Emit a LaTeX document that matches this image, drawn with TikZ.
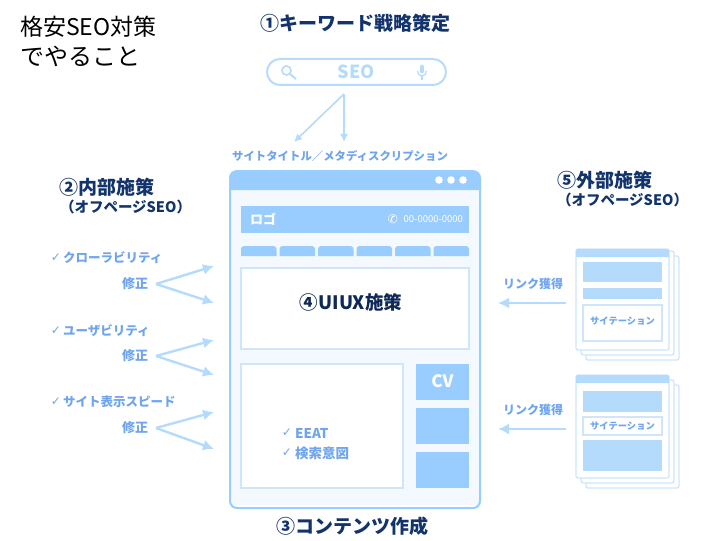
\documentclass[tikz,border=0pt]{standalone}
\usepackage{fontspec}
\setmainfont{Noto Sans CJK JP}
\newfontfamily\symfont{DejaVu Sans}
\usetikzlibrary{arrows,arrows.meta,positioning}

\definecolor{webblue}{HTML}{99CCFF}
\definecolor{paleblue}{HTML}{B5DBFC}
\definecolor{edgeblue}{HTML}{CFE5FB}
\definecolor{inkblue}{HTML}{6FA5EE}
\definecolor{navy}{HTML}{12336B}
\definecolor{winbg}{HTML}{F3F9FE}

\newcommand{\fsz}[1]{\fontsize{#1}{#1}\selectfont}

\begin{document}
\begin{tikzpicture}[x=1pt,y=-1pt,
            >={Latex[length=11pt,width=11pt]},
            every node/.style={inner sep=0pt,outer sep=0pt},
            heading/.style={text=navy,font=\fsz{19}\bfseries},
            subheading/.style={text=navy,font=\fsz{14.5}\bfseries},
            itemtext/.style={text=inkblue,font=\fsz{12.5}\bfseries},
            check/.style={text=inkblue,font=\symfont\fsz{12}},
            fixlabel/.style={text=inkblue,font=\fsz{13}\bfseries,anchor=east,inner xsep=8pt},
            linklabel/.style={text=inkblue,font=\fsz{12}\bfseries},
            citetext/.style={text=inkblue,font=\fsz{9.3}\bfseries},
            flow/.style={->,draw=paleblue,line width=2.4pt},
            panel/.style={draw=edgeblue,line width=1.5pt,fill=white,anchor=north west},
            solidblock/.style={fill=webblue,anchor=north west},
            paleblock/.style={fill=paleblue,anchor=north west},
            sheet/.style={draw=edgeblue,line width=1.3pt,fill=white,rounded corners=2pt,
                anchor=north west,minimum width=93pt}]

        \useasboundingbox (0,0) rectangle (711,540);

        % title
        \node[anchor=west,font=\fsz{23}] (title1) at (20,27) {格安SEO対策};
        \node[anchor=west,font=\fsz{24}] (title2) at (20,56) {でやること};

        % search bar
        \node[heading,anchor=west] (kw) at (260,23) {①キーワード戦略策定};
        \node[draw=paleblue,line width=2pt,rounded corners=13pt,minimum width=179pt,
              minimum height=26pt,anchor=north west] (bar) at (267,59) {};
        \node[text=paleblue,font=\fsz{18}\bfseries] (seo) at (356,72) {SEO};
        \draw[paleblue,line width=1.6pt] (286.5,70.5) circle (4.5pt);
        \draw[paleblue,line width=2pt] (290,74) -- (296,79);
        \draw[paleblue,line width=3.5pt,line cap=round] (422,66.5) -- (422,71.5);
        \draw[paleblue,line width=1.2pt] (417.5,71) arc[start angle=180,end angle=0,x radius=4.5pt,y radius=-5pt];
        \draw[paleblue,line width=1.2pt] (422,76) -- (422,80);

        \coordinate (split) at (344,94);
        \coordinate (tofix) at (294,142);
        \coordinate (todesc) at (344,142);
        \draw[->,>={Latex[length=8pt,width=8pt]},draw=paleblue,line width=1.6pt] (split) -- (tofix);
        \draw[->,>={Latex[length=8pt,width=8pt]},draw=paleblue,line width=1.6pt] (split) -- (todesc);
        \node[itemtext,font=\fsz{11.4}\bfseries] (meta) at (340,156) {サイトタイトル／メタディスクリプション};

        % browser window
        \fill[winbg] (229,175) rectangle (481,505);
        \fill[webblue] (229,190) [rounded corners=8pt] -- (229,170) -- (481,170) [sharp corners] -- (481,190) -- cycle;
        \draw[webblue,line width=2pt,rounded corners=7pt] (230,185) -- (230,508) -- (480,508) -- (480,185);
        \foreach \x in {439,451,463}
            \fill[white] (\x,180) circle (3.8pt);

        \node[solidblock,minimum width=228pt,minimum height=27pt] (logobar) at (241,206) {};
        \node[text=white,font=\fsz{13}\bfseries] (logo) at (263,219) {ロゴ};
        \node[text=white,font=\symfont\fsz{12},anchor=east] (phone) at (398,219) {✆};
        \node[text=white,font=\fsz{9.5},anchor=east] (tel) at (463,219) {00-0000-0000};
        \foreach \x in {241,279.5,318,356.5,395,433.5}
            \fill[webblue] (\x,256) [rounded corners=3pt] -- (\x,246) -- ++(35.5,0) [sharp corners] -- ++(0,10) -- cycle;

        \node[panel,minimum width=228pt,minimum height=81pt] (hero) at (241,268) {};
        \node[text=navy!80!black,font=\fsz{18.5}\bfseries] (uiux) at (351,302) {④UIUX施策};

        \node[panel,minimum width=162pt,minimum height=124pt] (body) at (241,364) {};
        \node[check] (chk1) at (287,433) {✓};
        \node[itemtext,font=\fsz{13.5}\bfseries,anchor=west] (eeat) at (295,433) {EEAT};
        \node[check] (chk2) at (287,453) {✓};
        \node[itemtext,font=\fsz{13.5}\bfseries,anchor=west] (intent) at (295,453) {検索意図};

        \node[solidblock,minimum width=53pt,minimum height=36pt] (cv) at (416,364) {};
        \node[text=white,font=\fsz{17}\bfseries] (cvtext) at (442.5,381) {CV};
        \node[solidblock,minimum width=53pt,minimum height=36pt] (side1) at (416,408) {};
        \node[solidblock,minimum width=53pt,minimum height=36pt] (side2) at (416,452) {};
        \node[heading,anchor=west] (content) at (276,526) {③コンテンツ作成};

        % inner measures
        \node[heading,anchor=west] (inner) at (59,187) {②内部施策};
        \node[subheading,anchor=west] (innersub) at (60,207) {（オフページSEO）};

        \foreach \n/\label/\ya/\yb/\yt/\yc in {1/クローラビリティ/258/284/266/303,
                                               2/ユーザビリティ/331/356/340/375,
                                               3/サイト表示スピード/402/428/412/449} {
            \node[check] (tick\n) at (56,\ya) {✓};
            \node[itemtext,anchor=west] (item\n) at (63,\ya) {\label};
            \node[fixlabel] (fix\n) at (156,\yb) {修正};
            \coordinate (up\n) at (214,\yt);
            \coordinate (down\n) at (214,\yc);
            \draw[flow] (fix\n.east) -- (up\n);
            \draw[flow] (fix\n.east) -- (down\n);
        }

        % outer measures
        \node[heading,anchor=west] (outer) at (557,180) {⑤外部施策};
        \node[subheading,anchor=west] (outersub) at (557,200) {（オフページSEO）};

        \node[sheet,minimum height=104pt] (back1) at (586,256) {};
        \node[sheet,minimum height=104pt] (mid1) at (581,251) {};
        \node[sheet,minimum height=101pt] (page1) at (576,249) {};
        \fill[paleblue] (576,257) [rounded corners=2pt] -- (576,249) -- (669,249) [sharp corners] -- (669,257) -- cycle;
        \node[paleblock,minimum width=79pt,minimum height=20pt] (blocka) at (583,262) {};
        \node[paleblock,minimum width=79pt,minimum height=11pt] (blockb) at (583,288) {};
        \node[panel,minimum width=79pt,minimum height=36pt] (cite1) at (583,305) {};
        \node[citetext] (citetext1) at (622.5,321) {サイテーション};

        \node[sheet,minimum height=103pt] (back2) at (586,385) {};
        \node[sheet,minimum height=103pt] (mid2) at (581,380) {};
        \node[sheet,minimum height=103pt] (page2) at (576,375) {};
        \fill[paleblue] (576,383) [rounded corners=2pt] -- (576,375) -- (669,375) [sharp corners] -- (669,383) -- cycle;
        \node[paleblock,minimum width=79pt,minimum height=21pt] (blockc) at (583,391) {};
        \node[panel,minimum width=79pt,minimum height=18pt] (cite2) at (583,417) {};
        \node[citetext] (citetext2) at (622.5,426) {サイテーション};
        \node[paleblock,minimum width=79pt,minimum height=31pt] (blockd) at (583,440) {};

        \node[linklabel] (link1) at (533,284) {リンク獲得};
        \node[linklabel] (link2) at (533,410) {リンク獲得};
        \coordinate (from1) at (566,303);
        \coordinate (to1) at (498,303);
        \coordinate (from2) at (566,429);
        \coordinate (to2) at (498,429);
        \draw[flow,line width=2.8pt] (from1) -- (to1);
        \draw[flow,line width=2.8pt] (from2) -- (to2);

    \end{tikzpicture}
\end{document}
